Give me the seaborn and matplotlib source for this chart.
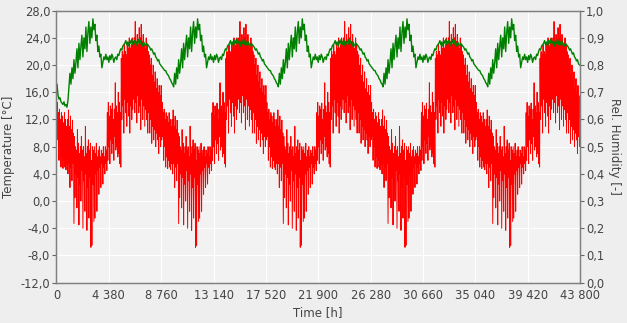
import numpy as np
import pandas as pd
import seaborn as sns
import matplotlib
matplotlib.use("Agg")
import matplotlib.pyplot as plt
from matplotlib.ticker import FuncFormatter, MultipleLocator

# ---- data (one typical year, 105 columns; repeated for 5 years) ----
years = 5
hours_per_year = 8760

# temperature envelope per column: upper and lower values [°C]
temp_hi = [17.0, 14.5, 13.0, 13.5, 12.0, 13.0, 12.5, 11.5, 13.0, 12.0, 11.0,
           12.0, 13.4, 11.0, 12.5, 10.5, 11.9, 10.0,
           9.5, 8.0, 7.5, 10.5, 8.5, 7.0, 8.0, 9.5, 7.5, 8.0, 6.5, 11.0, 7.0, 8.0, 9.0, 7.5, 8.5, 6.0, 8.0, 7.5,
           8.0, 7.0, 8.5, 6.5, 7.5, 8.0, 6.5, 7.5, 7.0, 8.0, 6.5, 8.0, 7.5,
           13.0, 14.5, 12.5, 14.0, 13.5, 14.4, 12.0, 13.5, 17.4, 14.0, 13.0, 16.0, 14.5, 13.0,
           21.0, 22.0, 21.5, 23.0, 22.0, 21.5, 23.2, 22.5, 24.0, 22.5, 23.0, 24.0,
           23.5, 24.0, 26.4, 23.5, 24.5, 23.0, 25.5, 24.0, 26.0, 23.5, 24.5, 23.0, 22.5, 24.0, 23.0, 22.0,
           21.5, 20.0, 21.0, 18.5, 20.0, 17.5, 19.0, 16.5, 18.0, 16.0, 17.0, 15.5]
temp_lo = [9.0, 9.5, 6.0, 8.0, 5.0, 6.5, 4.8, 6.0, 5.0, 4.6, 5.5,
           4.0, 5.5, 2.0, 5.0, 3.0, 5.5, -3.3,
           0.5, 4.0, -1.0, 3.5, -3.5, 2.5, 0.0, 4.5, -4.0, 3.0, -1.5, 4.0, -4.3, 2.0, -2.5, 3.5, -6.8, -6.5, 2.5, -3.0,
           -2.5, 4.0, -1.5, 4.5, 1.0, 5.0, 2.0, 5.5, 2.5, 5.0, 4.0, 5.5, 4.5,
           6.0, 8.0, 5.5, 9.0, 7.0, 8.5, 6.0, 9.5, 7.5, 8.0, 6.5, 7.0, 5.5, 5.0,
           12.0, 14.0, 10.0, 15.0, 13.0, 11.0, 14.5, 12.5, 10.0, 14.0, 12.0, 13.5,
           15.0, 13.0, 14.5, 11.5, 15.5, 13.0, 14.0, 10.5, 15.0, 12.0, 14.0, 11.0, 13.5, 12.0, 10.0, 13.0,
           10.0, 12.0, 8.5, 11.0, 9.0, 10.5, 8.0, 10.0, 9.0, 7.0, 9.5, 8.0]

# relative humidity per column [-], typical year and the first weeks of year one
hum_typical = [0.795, 0.79, 0.785, 0.78, 0.78, 0.77, 0.765, 0.76, 0.75, 0.745, 0.735, 0.73,
               0.72, 0.77, 0.73, 0.79, 0.75, 0.82, 0.77, 0.81, 0.86, 0.79, 0.88, 0.82, 0.87, 0.91,
               0.83, 0.90, 0.86, 0.94, 0.85, 0.92, 0.96, 0.88, 0.94, 0.90, 0.97,
               0.93, 0.95, 0.89, 0.91, 0.85, 0.87, 0.83, 0.84, 0.79,
               0.81, 0.83, 0.82, 0.84, 0.82, 0.83, 0.81, 0.835, 0.82, 0.84, 0.83, 0.81, 0.825, 0.83, 0.82, 0.84, 0.835,
               0.85, 0.86, 0.855, 0.87, 0.875, 0.88,
               0.89, 0.875, 0.885, 0.87, 0.89, 0.88, 0.895, 0.875, 0.885, 0.89, 0.87, 0.885, 0.88, 0.895,
               0.875, 0.89, 0.88, 0.87, 0.885, 0.875, 0.87, 0.88,
               0.875, 0.87, 0.865, 0.855, 0.86, 0.85, 0.84, 0.845, 0.83, 0.825, 0.815, 0.82, 0.805, 0.80]
hum_first_start = [0.73, 0.69, 0.675, 0.68, 0.665, 0.66, 0.655, 0.665, 0.65, 0.655, 0.645, 0.67]

x_ticks = [0, 4380, 8760, 13140, 17520, 21900, 26280, 30660, 35040, 39420, 43800]

# ---- build long tables ----
n = len(temp_hi)
step = hours_per_year / n
t_rows, temp_rows = [], []
h_rows, hum_rows = [], []
for y in range(years):
    hum_year = (hum_first_start + hum_typical[len(hum_first_start):]) if y == 0 else hum_typical
    for i in range(n):
        t0 = y * hours_per_year + i * step
        t_rows += [t0, t0 + step / 2]
        temp_rows += [temp_hi[i], temp_lo[i]]
        h_rows.append(t0 + step / 2)
        hum_rows.append(hum_year[i])

df_t = pd.DataFrame({"time": t_rows, "temp": temp_rows})
df_h = pd.DataFrame({"time": h_rows, "hum": hum_rows})

# ---- figure ----
sns.set_theme(style="white")
plt.rcParams["font.family"] = ["DejaVu Sans"]
bg = "#eeeeee"
fig = plt.figure(figsize=(6.27, 3.23), dpi=100, facecolor=bg)
ax = fig.add_axes([0.0901, 0.1248, 0.8349, 0.8421])
ax.set_facecolor("#f2f2f2")
ax2 = ax.twinx()
ax2.patch.set_visible(False)

sns.lineplot(data=df_t, x="time", y="temp", ax=ax, color="#ff0000", lw=0.7,
             estimator=None, sort=False)
sns.lineplot(data=df_h, x="time", y="hum", ax=ax2, color="#008000", lw=1.0,
             estimator=None, sort=False)

ax.set_xlim(0, 43800)
ax.set_ylim(-12, 28)
ax2.set_ylim(0, 1)
ax.set_xticks(x_ticks)
ax.yaxis.set_major_locator(MultipleLocator(4))
ax2.yaxis.set_major_locator(MultipleLocator(0.1))
ax.xaxis.set_major_formatter(FuncFormatter(lambda v, p: f"{v:,.0f}".replace(",", " ")))
ax.yaxis.set_major_formatter(FuncFormatter(lambda v, p: f"{v:.1f}".replace(".", ",")))
ax2.yaxis.set_major_formatter(FuncFormatter(lambda v, p: f"{v:.1f}".replace(".", ",")))

ax.grid(True, color="white", lw=0.8)
ax.set_axisbelow(True)

lab_col = "#444444"
for a in (ax, ax2):
    a.tick_params(axis="both", which="major", length=3, width=0.8, color="#666666",
                  labelsize=8.3, labelcolor=lab_col, pad=1.5, direction="out")
    for s in a.spines.values():
        s.set_color("#808080")
        s.set_linewidth(0.9)

ax.set_xlabel("Time [h]", fontsize=8.5, color=lab_col)
ax.set_ylabel("Temperature [°C]", fontsize=8.5, color=lab_col, labelpad=4)
ax2.set_ylabel("Rel. Humidity [-]", fontsize=8.5, color=lab_col, rotation=-90, labelpad=12)
ax.xaxis.set_label_coords(0.5, -0.085)

fig.savefig("out.png", dpi=100, facecolor=bg)
